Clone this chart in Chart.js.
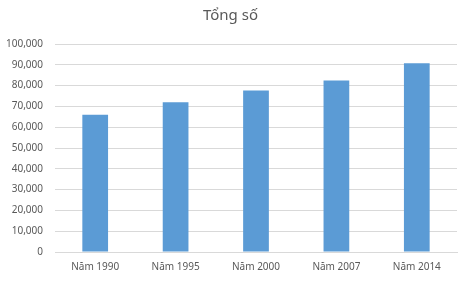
<!DOCTYPE html>
<html>
<head>
<meta charset="utf-8">
<script src="https://cdn.jsdelivr.net/npm/chart.js@4"></script>
<style>
  html, body { margin: 0; padding: 0; background: #fff; }
  #wrap { width: 464px; height: 282px; }
</style>
</head>
<body>
<div id="wrap"><canvas id="chart" width="464" height="282"></canvas></div>
<script>
// data
const categories = ['Năm 1990', 'Năm 1995', 'Năm 2000', 'Năm 2007', 'Năm 2014'];
const totals = [66000, 72000, 77600, 82500, 90700];
const yTicks = [0, 10000, 20000, 30000, 40000, 50000, 60000, 70000, 80000, 90000, 100000];

const fontFamily = '"Noto Sans", "Open Sans", sans-serif';
const grey = '#595959';

const ctx = document.getElementById('chart').getContext('2d');
new Chart(ctx, {
  type: 'bar',
  data: {
    labels: categories,
    datasets: [{
      label: 'Tổng số',
      data: totals,
      backgroundColor: '#5B9BD5',
      barPercentage: 0.32,
      categoryPercentage: 1
    }]
  },
  options: {
    responsive: false,
    animation: false,
    layout: { padding: { left: 4, right: 7, top: 0, bottom: 0 } },
    plugins: {
      legend: { display: false },
      tooltip: { enabled: false },
      title: {
        display: true,
        text: 'Tổng số',
        color: grey,
        font: { family: fontFamily, size: 15, weight: 'normal' },
        padding: { top: 7, bottom: 19 }
      }
    },
    scales: {
      x: {
        grid: { display: false, drawTicks: false },
        border: { color: '#D9D9D9' },
        ticks: { color: grey, font: { family: fontFamily, size: 10 }, padding: 9, maxRotation: 0 }
      },
      y: {
        min: 0,
        max: 100000,
        afterBuildTicks: axis => { axis.ticks = yTicks.map(v => ({ value: v })); },
        afterFit: axis => { axis.width = 51; },
        grid: { color: '#D9D9D9', drawTicks: false },
        border: { display: false },
        ticks: {
          color: grey,
          font: { family: fontFamily, size: 10 },
          padding: 12,
          callback: v => v.toLocaleString('en-US')
        }
      }
    }
  }
});
</script>
</body>
</html>
